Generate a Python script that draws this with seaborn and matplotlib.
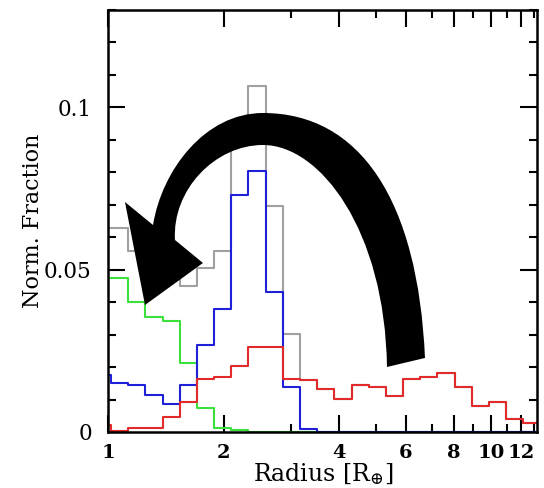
import numpy as np
import pandas as pd
import matplotlib
matplotlib.use("Agg")
import matplotlib.pyplot as plt
from matplotlib.path import Path
from matplotlib.patches import PathPatch
from matplotlib.ticker import FixedLocator, FixedFormatter, NullFormatter, MultipleLocator
import seaborn as sns

# ---- data ----
bin_edges = [0.916, 1.0158, 1.1265, 1.2492, 1.3853, 1.5362, 1.7035, 1.8891, 2.0949,
             2.3231, 2.5762, 2.8576, 3.169, 3.5142, 3.897, 4.3215, 4.7923, 5.3144,
             5.8934, 6.5354, 7.2473, 8.0369, 8.9124, 9.8864, 10.964, 12.158, 13.483]

green = [0.0473, 0.0473, 0.0401, 0.0353, 0.0343, 0.0211, 0.0073, 0.0011, 0.0006,
         0, 0, 0, 0, 0, 0, 0, 0, 0, 0, 0, 0, 0, 0, 0, 0, 0]
blue = [0.0175, 0.0150, 0.0145, 0.0114, 0.0086, 0.0145, 0.0268, 0.0378, 0.0729,
        0.0803, 0.0432, 0.0139, 0.0008, 0, 0, 0, 0, 0, 0, 0, 0, 0, 0, 0, 0, 0]
red = [0.0020, 0.0004, 0.0013, 0.0013, 0.0045, 0.0093, 0.0163, 0.0168, 0.0203,
       0.0263, 0.0263, 0.0163, 0.0160, 0.0131, 0.0101, 0.0145, 0.0139, 0.0111,
       0.0163, 0.0170, 0.0183, 0.0139, 0.0080, 0.0093, 0.0039, 0.0029]
gray = [0.0627, 0.0627, 0.0559, 0.0480, 0.0474, 0.0449, 0.0504, 0.0557, 0.0938,
        0.1066, 0.0695, 0.0302, 0.0160, 0.0131, 0.0101, 0.0145, 0.0139, 0.0111,
        0.0163, 0.0170, 0.0183, 0.0139, 0.0080, 0.0093, 0.0039, 0.0029]

x_ticks = [1, 2, 4, 6, 8, 10, 12]
x_tick_labels = ["1", "2", "4", "6", "8", "10", "12"]
x_minor = [3, 5, 7, 9, 11, 13]
y_ticks = [0, 0.05, 0.1]
y_tick_labels = ["0", "0.05", "0.1"]

series = [("gray", gray, "#a0a0a0"), ("green", green, "#3ce03c"),
          ("blue", blue, "#2020d8"), ("red", red, "#e22a2a")]

# ---- figure ----
sns.set_style("ticks")
plt.rcParams["font.family"] = ["DejaVu Serif"]
plt.rcParams["mathtext.fontset"] = "dejavuserif"
plt.rcParams["text.color"] = "black"
plt.rcParams["axes.labelcolor"] = "black"

fig = plt.figure(figsize=(5.44, 4.88), dpi=100)
ax = fig.add_axes([0.1994, 0.1148, 0.7877, 0.8647])

edges = np.array(bin_edges)
centers = np.sqrt(edges[:-1] * edges[1:])
log_bins = [float(v) for v in np.log10(edges)]

for name, vals, col in series:
    df = pd.DataFrame({"radius": centers, "frac": np.array(vals, dtype=float)})
    sns.histplot(data=df, x="radius", weights="frac", bins=log_bins, log_scale=True,
                 element="step", fill=False, color=col, linewidth=1.5,
                 ax=ax, legend=False)

ax.set_xlim(1, 13.2)
ax.set_ylim(0, 0.13)

ax.xaxis.set_major_locator(FixedLocator(x_ticks))
ax.xaxis.set_major_formatter(FixedFormatter(x_tick_labels))
ax.xaxis.set_minor_locator(FixedLocator(x_minor))
ax.xaxis.set_minor_formatter(NullFormatter())
ax.yaxis.set_major_locator(FixedLocator(y_ticks))
ax.yaxis.set_major_formatter(FixedFormatter(y_tick_labels))
ax.yaxis.set_minor_locator(MultipleLocator(0.01))

ax.tick_params(which="both", direction="in", top=True, right=True,
               width=1.5, colors="black")
ax.tick_params(which="major", length=12)
ax.tick_params(which="minor", length=6)
ax.tick_params(axis="x", which="major", labelsize=14, pad=9)
ax.tick_params(axis="y", which="major", labelsize=15.5, pad=12)
for lab in ax.get_xticklabels():
    lab.set_fontweight("bold")
for s in ax.spines.values():
    s.set_linewidth(1.8)
    s.set_color("black")

ax.set_xlabel(r"Radius [R$_{\oplus}$]", fontsize=17, labelpad=-1)
ax.set_ylabel("Norm. Fraction", fontsize=16, labelpad=0)

# ---- big curved arrow (decorative annotation, axes fraction coords) ----
verts = [
    (0.7386, 0.1754),
    (0.7223, 0.5498), (0.5869, 0.7559), (0.3606, 0.7559),
    (0.2252, 0.7559), (0.1249, 0.6209), (0.1039, 0.4905),
    (0.0385, 0.5450),
    (0.0852, 0.3009),
    (0.2205, 0.4005),
    (0.1552, 0.4550),
    (0.1482, 0.5735), (0.2485, 0.6801), (0.3606, 0.6801),
    (0.4936, 0.6801), (0.6453, 0.4787), (0.6499, 0.1540),
    (0.7386, 0.1754),
]
codes = ([Path.MOVETO] + [Path.CURVE4] * 6 + [Path.LINETO] * 4 +
         [Path.CURVE4] * 6 + [Path.CLOSEPOLY])
arrow = PathPatch(Path(verts, codes), transform=ax.transAxes,
                  facecolor="black", edgecolor="none", zorder=10)
ax.add_patch(arrow)

fig.savefig("out.png", dpi=100)
